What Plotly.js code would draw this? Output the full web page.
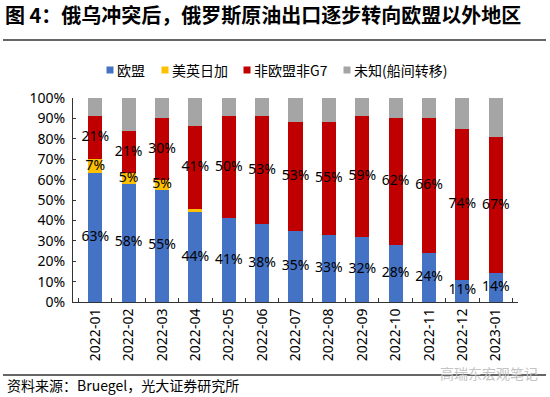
<!DOCTYPE html>
<html>
<head>
<meta charset="utf-8">
<script src="https://cdn.plot.ly/plotly-3.0.1.min.js"></script>
<style>html,body{margin:0;padding:0;background:#fff;}#chart{width:550px;height:397px;}</style>
</head>
<body>
<div id="chart"></div>
<script>
var categories = ["2022-01","2022-02","2022-03","2022-04","2022-05","2022-06","2022-07","2022-08","2022-09","2022-10","2022-11","2022-12","2023-01"];
var euValues = [63,58,55,44,41,38,35,33,32,28,24,11,14];
var g7Values = [7,5,5,1.5,0,0,0,0,0,0,0,0,0];
var otherValues = [21,21,30,41,50,53,53,55,59,62,66,74,67];
var unknownValues = [9,16,10,13.5,9,9,12,12,9,10,10,15,19];
var g7LabelShown = [true,true,true,false,false,false,false,false,false,false,false,false,false];
var seriesNames = ["欧盟","美英日加","非欧盟非G7","未知(船间转移)"];
var colors = ["#4472C4","#FFC000","#C00000","#A5A5A5"];
var yTickVals = [0,10,20,30,40,50,60,70,80,90,100];
var yTickText = ["0%","10%","20%","30%","40%","50%","60%","70%","80%","90%","100%"];

var LAT = "Noto Sans, Open Sans, sans-serif";
var CJK = "Noto Sans CJK SC, Noto Sans, sans-serif";

// plot geometry (pixels) used to place legend/decoration in paper coords
var PL = 73, PW = 445, PB = 302, PH = 204;
function px2x(p){ return (p - PL) / PW; }
function px2y(p){ return (PB - p) / PH; }

var series = [euValues, g7Values, otherValues, unknownValues];
var traces = [];
series.forEach(function(vals, i){
  traces.push({type:"bar", x:categories, y:vals, name:seriesNames[i],
    marker:{color:colors[i], line:{width:0}}, showlegend:false, hoverinfo:"y"});
});
// data labels
function mid(base, v){ return base.map(function(b,k){ return b + v[k]/2; }); }
var zeros = euValues.map(function(){return 0;});
var g7Top = euValues.map(function(v,k){return v + g7Values[k];});
var lblFont = {family:LAT, size:14, color:"#000"};
traces.push({type:"scatter", mode:"text", x:categories, y:mid(zeros, euValues),
  text:euValues.map(function(v){return v+"%";}), textfont:lblFont, showlegend:false, cliponaxis:false, hoverinfo:"skip"});
traces.push({type:"scatter", mode:"text", x:categories, y:mid(euValues, g7Values),
  text:g7Values.map(function(v,k){return g7LabelShown[k] ? v+"%" : "";}), textfont:lblFont, showlegend:false, cliponaxis:false, hoverinfo:"skip"});
traces.push({type:"scatter", mode:"text", x:categories, y:mid(g7Top, otherValues),
  text:otherValues.map(function(v){return v+"%";}), textfont:lblFont, showlegend:false, cliponaxis:false, hoverinfo:"skip"});

// legend (drawn as keys + labels to match the compact spacing of the original)
var legendKeyX = [110, 165, 247, 347];
var legendY = 70;
var shapes = [
  {type:"line", xref:"paper", yref:"paper", x0:px2x(3), x1:px2x(546), y0:px2y(40), y1:px2y(40), line:{color:"#333", width:1.3}},
  {type:"line", xref:"paper", yref:"paper", x0:px2x(3), x1:px2x(546), y0:px2y(375), y1:px2y(375), line:{color:"#333", width:1.3}}
];
var annotations = [
  {xref:"paper", yref:"paper", x:px2x(5), y:px2y(385), xanchor:"left", yanchor:"middle", showarrow:false,
    text:"资料来源：Bruegel，光大证券研究所", font:{family:CJK, size:14, color:"#000"}},
  {xref:"paper", yref:"paper", x:px2x(489), y:px2y(373), xanchor:"center", yanchor:"middle", showarrow:false,
    text:"高瑞东宏观笔记", font:{family:CJK, size:14, color:"#c4c4c4"}}
];
seriesNames.forEach(function(n,i){
  var cx = legendKeyX[i];
  shapes.push({type:"rect", xref:"paper", yref:"paper", x0:px2x(cx-3.5), x1:px2x(cx+3.5), y0:px2y(legendY+3.5), y1:px2y(legendY-3.5),
    fillcolor:colors[i], line:{width:0}});
  annotations.push({xref:"paper", yref:"paper", x:px2x(cx+5), y:px2y(legendY), xanchor:"left", yanchor:"middle", showarrow:false,
    text:n, font:{family:CJK, size:14, color:"#000"}});
});

var layout = {
  width:550, height:397,
  margin:{l:PL, r:550-PL-PW, t:PB-PH, b:397-PB, pad:0},
  paper_bgcolor:"#fff", plot_bgcolor:"#fff",
  barmode:"stack", bargap:0.58,
  title:{text:"<b>图 4：俄乌冲突后，俄罗斯原油出口逐步转向欧盟以外地区</b>", font:{family:CJK, size:20, color:"#000"},
    xref:"container", x:0.009, xanchor:"left", yref:"container", y:0.96, yanchor:"middle"},
  xaxis:{type:"category", showline:true, linecolor:"#333", linewidth:1, ticks:"inside", tickson:"boundaries",
    ticklen:4, tickcolor:"#333", tickangle:-90, tickfont:{family:LAT, size:14, color:"#000"},
    showgrid:false, zeroline:false, fixedrange:true},
  yaxis:{range:[0,100], tickmode:"array", tickvals:yTickVals, ticktext:yTickText, showline:true, linecolor:"#333", linewidth:1,
    ticks:"inside", ticklen:3, tickcolor:"#333", tickfont:{family:LAT, size:14, color:"#000"}, ticklabelstandoff:4,
    showgrid:false, zeroline:false, fixedrange:true},
  showlegend:false,
  shapes:shapes,
  annotations:annotations
};
Plotly.newPlot("chart", traces, layout, {displayModeBar:false, staticPlot:true});
</script>
</body>
</html>
